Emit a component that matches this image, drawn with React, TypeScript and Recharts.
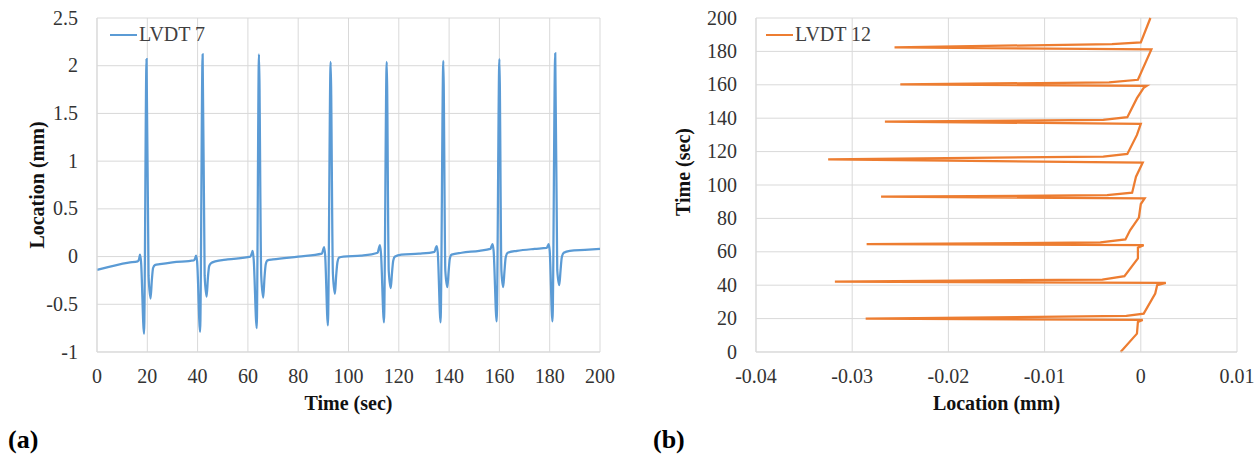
import React from 'react';
import { LineChart, Line, XAxis, YAxis, CartesianGrid, Legend } from 'recharts';

const SERIF = '"Liberation Serif", "Times New Roman", serif';
const BLUE = '#5b9bd5';
const ORANGE = '#ed7d31';
const GRID = '#d9d9d9';

// (a) LVDT 7: time (sec) vs location (mm)
const timeA = [
  0, 12.6, 16.2, 16.7, 17.1, 17.5, 18.7, 19.7, 20.5, 21.3, 21.8, 22.3, 23.0, 25, 30, 38.5,
  39.0, 39.4, 39.8, 41.0, 42.0, 42.8, 43.6, 44.1, 44.6, 45.3, 47, 52, 61.0,
  61.5, 61.9, 62.3, 63.5, 64.4, 65.3, 66.1, 66.6, 67.1, 67.8, 70, 80, 89.4,
  89.9, 90.3, 90.7, 91.8, 92.9, 93.8, 94.6, 95.1, 95.6, 96.3, 98, 105, 111.6,
  112.1, 112.5, 112.9, 114.1, 115.2, 116.0, 116.8, 117.3, 117.8, 118.5, 121, 128, 134.2,
  134.7, 135.1, 135.5, 136.6, 137.7, 138.5, 139.3, 139.8, 140.3, 141, 145, 152, 156.4,
  156.9, 157.3, 157.7, 158.9, 160.0, 160.8, 161.5, 162.0, 162.5, 163.3, 167, 174, 178.8,
  179.2, 179.6, 180.0, 181.1, 182.2, 183.0, 183.8, 184.3, 184.8, 185.6, 188, 194, 200,
];
const locA = [
  -0.14, -0.063, -0.05, -0.03, 0.02, -0.05, -0.81, 2.07, -0.2, -0.44, -0.25, -0.12, -0.09, -0.08, -0.06, -0.04,
  -0.02, 0.01, -0.05, -0.79, 2.12, -0.2, -0.42, -0.22, -0.1, -0.07, -0.05, -0.03, 0.0,
  0.03, 0.06, -0.03, -0.75, 2.12, -0.2, -0.43, -0.22, -0.08, -0.04, -0.03, 0.0, 0.03,
  0.07, 0.1, 0.02, -0.72, 2.04, -0.18, -0.39, -0.2, -0.06, -0.01, 0.0, 0.01, 0.04,
  0.09, 0.12, 0.04, -0.69, 2.04, -0.15, -0.33, -0.17, -0.04, 0.0, 0.02, 0.03, 0.05,
  0.09, 0.11, 0.04, -0.69, 2.05, -0.15, -0.32, -0.16, -0.02, 0.02, 0.04, 0.06, 0.08,
  0.11, 0.13, 0.06, -0.68, 2.07, -0.15, -0.32, -0.16, -0.01, 0.04, 0.06, 0.08, 0.09,
  0.11, 0.13, 0.06, -0.68, 2.13, -0.14, -0.3, -0.15, -0.01, 0.04, 0.06, 0.07, 0.08,
];

// (b) LVDT 12: location (mm) vs time (sec)
const timeB = [
  0, 11, 18, 19.2, 20.0, 21.6, 23.0, 35, 40, 41.4,
  42.1, 43.4, 45.4, 56, 62.5, 64.0, 64.6, 65.6, 67.4, 73,
  80.5, 88.6, 92.0, 93.0, 93.9, 95.4, 105, 113.4, 115.4, 117,
  118.6, 130, 136.6, 138.0, 139.0, 140.6, 152, 158.2, 159.3, 160.2,
  161.5, 163, 181.2, 182.4, 184.4, 185.4, 200,
];
const locB = [
  -0.0021, -0.0004, -0.0003, 0.0002, -0.0286, -0.0015, 0.0003, 0.0015, 0.0017, 0.0026,
  -0.0318, -0.004, -0.0017, -0.0003, -0.0003, 0.0003, -0.0285, -0.0042, -0.0016, -0.0011,
  -0.0002, 0.0, 0.0004, -0.027, -0.0035, -0.0009, -0.0005, 0.0002, -0.0325, -0.0039,
  -0.0014, -0.0004, 0.0, -0.0266, -0.0039, -0.0014, -0.0004, 0.0003, 0.0006, -0.025,
  -0.0033, -0.0003, 0.0011, -0.0256, -0.003, 0.0, 0.001,
];

const ticksAX = [0, 20, 40, 60, 80, 100, 120, 140, 160, 180, 200];
const ticksAY = [-1, -0.5, 0, 0.5, 1, 1.5, 2, 2.5];
const ticksBX = [-0.04, -0.03, -0.02, -0.01, 0, 0.01];
const ticksBY = [0, 20, 40, 60, 80, 100, 120, 140, 160, 180, 200];

const dataA = timeA.map((t, i) => ({ t, loc: locA[i] }));
const dataB = timeB.map((t, i) => ({ t, loc: locB[i] }));

const titleStyle = { fontFamily: SERIF, fontSize: 20, fontWeight: 'bold', fill: '#111', textAnchor: 'middle' as const };

// serif tick text; bottom ticks hang below, left ticks are centred on the gridline
const SerifTick = (props: any) => {
  const { x, y, payload, textAnchor, orientation } = props;
  const dy = orientation === 'bottom' ? '0.71em' : '0.33em';
  return (
    <text x={x} y={y} dy={dy} textAnchor={textAnchor} style={{ fontFamily: SERIF, fontSize: 20, fill: '#333' }}>
      {payload.value}
    </text>
  );
};

const legendFor = (color: string, text: string) => () => (
  <div style={{ display: 'flex', alignItems: 'center', fontFamily: SERIF, fontSize: 20, color: '#404040', lineHeight: '23px' }}>
    <svg width={27} height={4}>
      <line x1={0} y1={2} x2={27} y2={2} stroke={color} strokeWidth={2} />
    </svg>
    <span style={{ marginLeft: 2 }}>{text}</span>
  </div>
);

const panelLabel = (text: string, left: number) => (
  <div style={{ position: 'absolute', left, top: 427, fontFamily: SERIF, fontSize: 26, fontWeight: 'bold', lineHeight: 1, color: '#000' }}>
    {text}
  </div>
);

export default function App() {
  return (
    <div style={{ position: 'absolute', left: 0, top: 0, width: 1260, height: 458, background: '#fff', fontFamily: SERIF }}>
      <div style={{ position: 'absolute', left: 0, top: 0 }}>
        <LineChart width={620} height={420} data={dataA} margin={{ top: 18, right: 20, bottom: 38, left: 0 }}>
          <CartesianGrid stroke={GRID} />
          <XAxis
            type="number"
            dataKey="t"
            domain={[0, 200]}
            ticks={ticksAX}
            height={30}
            tickSize={0}
            tickMargin={17}
            tick={<SerifTick orientation="bottom" />}
            axisLine={{ stroke: GRID }}
            label={{ value: 'Time (sec)', position: 'bottom', offset: 14, style: titleStyle }}
          />
          <YAxis
            type="number"
            domain={[-1, 2.5]}
            ticks={ticksAY}
            width={97}
            tickSize={0}
            tickMargin={19}
            tick={<SerifTick orientation="left" />}
            axisLine={{ stroke: GRID }}
            label={{ value: 'Location (mm)', angle: -90, position: 'insideLeft', offset: 37, style: titleStyle }}
          />
          <Legend
            layout="horizontal"
            verticalAlign="middle"
            align="center"
            wrapperStyle={{ top: 23, left: 110, width: 'auto' }}
            content={legendFor(BLUE, 'LVDT 7')}
          />
          <Line type="monotone" dataKey="loc" stroke={BLUE} strokeWidth={2.25} dot={false} isAnimationActive={false} />
        </LineChart>
      </div>
      <div style={{ position: 'absolute', left: 640, top: 0 }}>
        <LineChart layout="vertical" width={620} height={420} data={dataB} margin={{ top: 18, right: 23, bottom: 38, left: 0 }}>
          <CartesianGrid stroke={GRID} />
          <XAxis
            type="number"
            domain={[-0.04, 0.01]}
            ticks={ticksBX}
            height={30}
            tickSize={0}
            tickMargin={17}
            tick={<SerifTick orientation="bottom" />}
            axisLine={{ stroke: GRID }}
            label={{ value: 'Location (mm)', position: 'bottom', offset: 14, style: titleStyle }}
          />
          <YAxis
            type="number"
            dataKey="t"
            domain={[0, 200]}
            ticks={ticksBY}
            reversed
            width={116}
            tickSize={0}
            tickMargin={19}
            tick={<SerifTick orientation="left" />}
            axisLine={{ stroke: GRID }}
            label={{ value: 'Time (sec)', angle: -90, position: 'insideLeft', offset: 43, dy: -13, style: titleStyle }}
          />
          <Legend
            layout="horizontal"
            verticalAlign="middle"
            align="center"
            wrapperStyle={{ top: 23, left: 126, width: 'auto' }}
            content={legendFor(ORANGE, 'LVDT 12')}
          />
          <Line type="linear" dataKey="loc" stroke={ORANGE} strokeWidth={2.25} dot={false} isAnimationActive={false} />
        </LineChart>
      </div>
      {panelLabel('(a)', 8)}
      {panelLabel('(b)', 653)}
    </div>
  );
}
